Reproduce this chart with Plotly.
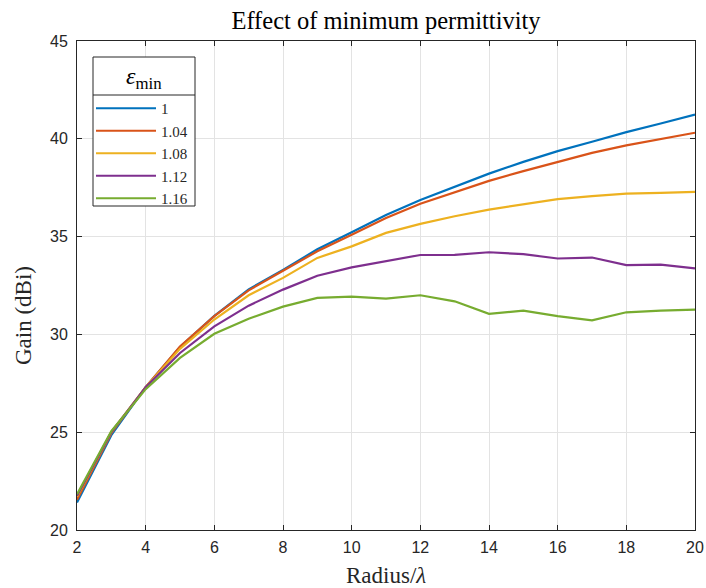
import plotly.graph_objects as go

radius = list(range(2, 21))
series_names = ["1", "1.04", "1.08", "1.12", "1.16"]
gain_1 = [21.40, 24.85, 27.30, 29.35, 30.95, 32.30, 33.30, 34.35, 35.22, 36.10,
          36.87, 37.55, 38.22, 38.82, 39.37, 39.85, 40.34, 40.78, 41.24]
gain_104 = [21.55, 24.95, 27.30, 29.38, 30.93, 32.25, 33.25, 34.25, 35.10, 35.95,
            36.68, 37.27, 37.85, 38.35, 38.82, 39.28, 39.66, 40.00, 40.31]
gain_108 = [21.70, 25.00, 27.30, 29.26, 30.76, 32.00, 32.89, 33.91, 34.50, 35.19,
            35.65, 36.04, 36.38, 36.64, 36.92, 37.07, 37.20, 37.24, 37.29]
gain_112 = [21.75, 25.00, 27.30, 29.05, 30.41, 31.47, 32.29, 33.00, 33.43, 33.74,
            34.06, 34.07, 34.20, 34.10, 33.88, 33.93, 33.54, 33.57, 33.37]
gain_116 = [21.83, 25.05, 27.20, 28.80, 30.03, 30.80, 31.42, 31.87, 31.93, 31.83,
            32.00, 31.69, 31.05, 31.22, 30.93, 30.72, 31.13, 31.22, 31.27]
colors = ["#0072BD", "#D95319", "#EDB120", "#7E2F8E", "#77AC30"]
x_ticks = list(range(2, 21, 2))
y_ticks = list(range(20, 46, 5))

all_series = [gain_1, gain_104, gain_108, gain_112, gain_116]

SERIF = "Liberation Serif"
SANS = "Liberation Sans"
AX = "#262626"

fig = go.Figure()
for name, vals, col in zip(series_names, all_series, colors):
    fig.add_trace(go.Scatter(x=radius, y=vals, mode="lines", name=name,
                             line=dict(color=col, width=2.2)))

W, H = 706, 588
# plot area in window pixels: x 77..695, y 41..530
L, R, T, B = 77, 706 - 695, 41, 588 - 530
pw, ph = W - L - R, H - T - B

def px_x(p):  # window pixel x -> paper
    return (p - L) / pw

def px_y(p):  # window pixel y -> paper
    return (H - B - p) / ph

axis_common = dict(showline=True, linecolor=AX, linewidth=1, mirror="ticks",
                   ticks="inside", ticklen=5, tickcolor=AX, tickwidth=1,
                   showgrid=True, gridcolor="#e3e3e3", gridwidth=1, zeroline=False,
                   automargin=False,
                   tickfont=dict(family=SANS, size=16, color=AX))

fig.update_xaxes(range=[2, 20], tickvals=x_ticks, ticklabelstandoff=3, **axis_common)
fig.update_yaxes(range=[20, 45], tickvals=y_ticks, ticklabelstandoff=5, **axis_common)

# legend box and header separator
bx0, bx1, by0, by1, bsep = 93, 195, 57, 206, 95
fig.add_shape(type="rect", xref="paper", yref="paper",
              x0=px_x(bx0), x1=px_x(bx1), y0=px_y(by1), y1=px_y(by0),
              line=dict(color=AX, width=1), fillcolor="white", layer="above")
fig.add_shape(type="line", xref="paper", yref="paper",
              x0=px_x(bx0), x1=px_x(bx1), y0=px_y(bsep), y1=px_y(bsep),
              line=dict(color=AX, width=1), layer="above")
fig.add_annotation(xref="paper", yref="paper", x=px_x((bx0 + bx1) / 2), y=px_y(78),
                   text="<i>ε</i><sub>min</sub>", showarrow=False,
                   font=dict(family=SERIF, size=24, color="black"),
                   xanchor="center", yanchor="middle")

fig.add_annotation(xref="paper", yref="paper", x=px_x(386), y=px_y(575),
                   text="Radius/<i>λ</i>", showarrow=False,
                   font=dict(family=SERIF, size=23, color=AX),
                   xanchor="center", yanchor="middle")
fig.add_annotation(xref="paper", yref="paper", x=px_x(23), y=px_y(316),
                   text="Gain (dBi)", showarrow=False, textangle=-90,
                   font=dict(family=SERIF, size=23, color=AX),
                   xanchor="center", yanchor="middle")

fig.update_layout(
    width=W, height=H,
    margin=dict(l=L, r=R, t=T, b=B, autoexpand=False),
    paper_bgcolor="white", plot_bgcolor="white",
    title=dict(text="Effect of minimum permittivity", x=386 / W,
               xanchor="center", y=1 - 20 / H, yanchor="middle",
               font=dict(family=SERIF, size=24.5, color="black")),
    showlegend=True,
    legend=dict(x=px_x(91), y=px_y(92), xanchor="left", yanchor="top",
                bgcolor="rgba(0,0,0,0)", borderwidth=0,
                font=dict(family=SERIF, size=15, color=AX),
                itemwidth=60, tracegroupgap=0),
)

fig.write_html("out.html", config={"displayModeBar": False},
               post_script="document.body.style.margin='0px';"
                           "document.body.style.overflow='hidden';")
